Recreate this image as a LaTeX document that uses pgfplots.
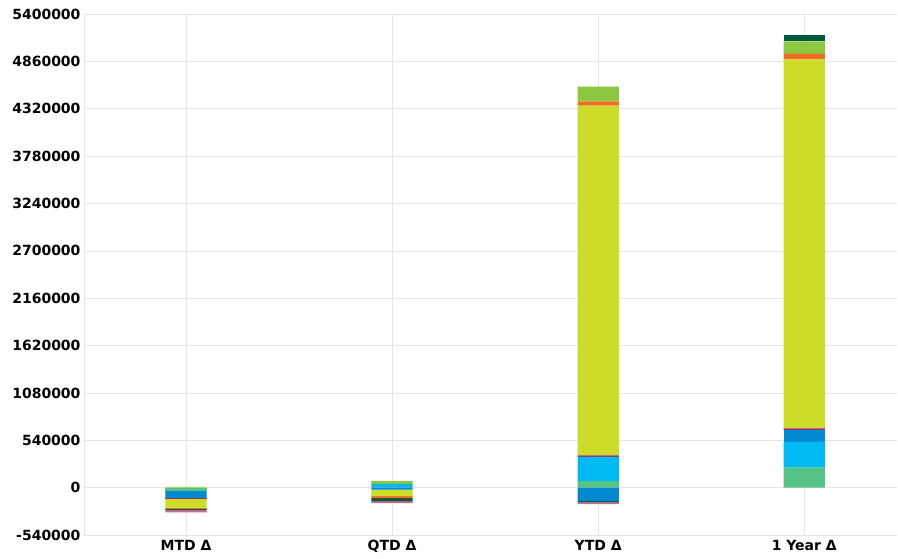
\documentclass[border=0pt]{standalone}
\usepackage{fontspec}
\setmainfont{DejaVu Sans}
\usepackage{pgfplots}
\usepackage{pgfplotstable}
\usetikzlibrary{calc}
\pgfplotsset{compat=1.18}

\definecolor{cteal}{HTML}{55C287}
\definecolor{clblue}{HTML}{00B9F1}
\definecolor{cblue}{HTML}{0288CE}
\definecolor{cmag}{HTML}{A12B6F}
\definecolor{cyg}{HTML}{CDDC29}
\definecolor{corange}{HTML}{F26A24}
\definecolor{clgreen}{HTML}{8DC63F}
\definecolor{cdgreen}{HTML}{00583D}
\definecolor{cpink}{HTML}{C9668B}
\definecolor{gridc}{HTML}{E6E6E6}

% positive parts, stacked upward from zero
\pgfplotstableread{
x teal    lblue   blue    mag    yg       orange lgreen  dgreen
0 0       0       0       0      0        0      8000    0
1 0       42000   0       0      0        0      34000   0
2 75000   275000  0       19000  3985000  46000  172000  0
3 229000  297000  129000  20000  4207000  62000  144000  73000
}\postable

% negative parts, stacked downward from zero
\pgfplotstableread{
x teal    blue     mag     yg      orange  dgreen  pink
0 -34000  -84000   -11000  -99000  -15000  -15000  -23000
1 0       -23000   0       -73000  -23000  -34000  -23000
2 0       -153000  0       0       0       -15000  -19000
3 0       0        0       0       0       0       0
}\negtable

\pgfplotsset{
  deltabase/.style={
    scale only axis,
    width=813pt, height=521pt,
    ybar stacked,
    bar width=0.2,
    xmin=-0.495, xmax=3.45,
    ymin=-540000, ymax=5400000,
    every axis plot/.append style={draw=none},
  },
}

\begin{document}
\begin{tikzpicture}
\begin{axis}[
  deltabase,
  name=main,
  axis x line*=bottom, axis y line*=left,
  axis line style={gridc, -},
  xtick={0,1,2,3},
  xticklabels={MTD Δ, QTD Δ, YTD Δ, 1 Year Δ},
  ytick={-540000,0,540000,1080000,1620000,2160000,2700000,3240000,3780000,4320000,4860000,5400000},
  scaled y ticks=false,
  yticklabel={\pgfmathprintnumber[fixed,precision=0,1000 sep={}]{\tick}},
  /pgf/number format/assume math mode=true,
  major tick length=0pt,
  grid=major,
  major grid style={gridc, line width=0.6pt},
  tick label style={font=\fontsize{14}{16}\selectfont\bfseries},
  xticklabel style={yshift=-2pt},
]
\addplot[fill=cteal]   table[x=x, y=teal]   {\postable};
\addplot[fill=clblue]  table[x=x, y=lblue]  {\postable};
\addplot[fill=cblue]   table[x=x, y=blue]   {\postable};
\addplot[fill=cmag]    table[x=x, y=mag]    {\postable};
\addplot[fill=cyg]     table[x=x, y=yg]     {\postable};
\addplot[fill=corange] table[x=x, y=orange] {\postable};
\addplot[fill=clgreen] table[x=x, y=lgreen] {\postable};
\addplot[fill=cdgreen] table[x=x, y=dgreen] {\postable};
\end{axis}
\begin{axis}[deltabase, hide axis]
\addplot[fill=cteal]   table[x=x, y=teal]   {\negtable};
\addplot[fill=cblue]   table[x=x, y=blue]   {\negtable};
\addplot[fill=cmag]    table[x=x, y=mag]    {\negtable};
\addplot[fill=cyg]     table[x=x, y=yg]     {\negtable};
\addplot[fill=corange] table[x=x, y=orange] {\negtable};
\addplot[fill=cdgreen] table[x=x, y=dgreen] {\negtable};
\addplot[fill=cpink]   table[x=x, y=pink]   {\negtable};
\end{axis}
% fix the page to the reference margins round the plot area
\pgfresetboundingbox
\path ($(main.south west)+(-84pt,-23pt)$) rectangle ($(main.north east)+(1pt,14pt)$);
\end{tikzpicture}
\end{document}
